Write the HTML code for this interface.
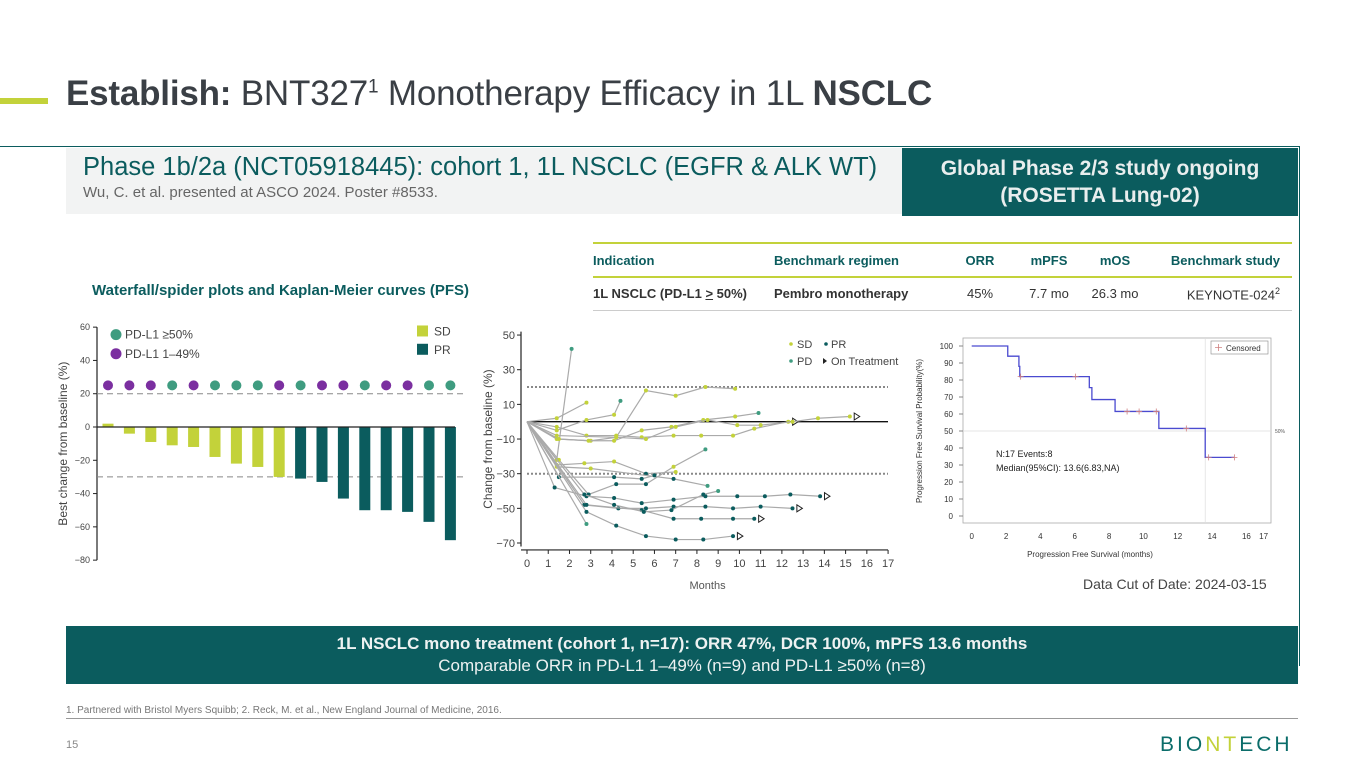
<!DOCTYPE html>
<html><head><meta charset="utf-8"><style>
*{margin:0;padding:0;box-sizing:border-box}
body{width:1365px;height:768px;background:#fff;font-family:"Liberation Sans",sans-serif;position:relative;overflow:hidden;color:#333}
.abs{position:absolute}
svg text{font-family:"Liberation Sans",sans-serif}
td{padding:0}
</style></head><body>
<div class="abs" style="left:0;top:98px;width:48px;height:6px;background:#c3d23a"></div>
<div class="abs" style="left:66px;top:74px;font-size:35px;color:#3a3f45;white-space:nowrap;letter-spacing:-0.2px"><b>Establish:</b> BNT327<sup style="font-size:19px">1</sup> Monotherapy Efficacy in 1L <b>NSCLC</b></div>
<div class="abs" style="left:0;top:146px;width:1300px;height:520px;border-top:1.5px solid #0b5c5e;border-right:1.5px solid #0b5c5e"></div>
<div class="abs" style="left:66px;top:148px;width:836px;height:66px;background:#f2f3f3;padding:5px 0 0 17px">
<div style="font-size:25.5px;color:#0b5c5e;white-space:nowrap">Phase 1b/2a (NCT05918445): cohort 1, 1L NSCLC (EGFR &amp; ALK WT)</div>
<div style="font-size:15px;color:#666;margin-top:2px">Wu, C. et al. presented at ASCO 2024. Poster #8533.</div></div>
<div class="abs" style="left:902px;top:148px;width:396px;height:68px;background:#0b5c5e;color:#e9eeee;font-weight:bold;font-size:21px;text-align:center;line-height:27px;padding-top:7px">Global Phase 2/3 study ongoing<br>(ROSETTA Lung-02)</div>
<div class="abs" style="left:92px;top:282px;font-size:15px;font-weight:bold;color:#0b5c5e">Waterfall/spider plots and Kaplan-Meier curves (PFS)</div>
<table class="abs" style="left:593px;top:242px;width:699px;border-collapse:collapse;font-size:13px;color:#333;table-layout:fixed">
<colgroup><col style="width:181px"><col style="width:168px"><col style="width:76px"><col style="width:62px"><col style="width:70px"><col style="width:142px"></colgroup>
<tr style="border-top:2.5px solid #c3d23a;border-bottom:2.5px solid #c3d23a;height:34px;font-weight:bold;color:#0b5c5e"><td>Indication</td><td>Benchmark regimen</td><td style="text-align:center">ORR</td><td style="text-align:center">mPFS</td><td style="text-align:center">mOS</td><td style="text-align:right;padding-right:12px">Benchmark study</td></tr>
<tr style="border-bottom:1.5px solid #ccc;height:33px"><td style="font-weight:bold;white-space:nowrap">1L NSCLC (PD-L1 <u>&gt;</u> 50%)</td><td style="font-weight:bold">Pembro monotherapy</td><td style="text-align:center">45%</td><td style="text-align:center">7.7 mo</td><td style="text-align:center">26.3 mo</td><td style="text-align:right;padding-right:12px">KEYNOTE-024<sup style="font-size:9px">2</sup></td></tr></table>

<svg class="abs" style="left:0;top:0" width="1365" height="768">
<g id="wf"></g>
<g id="sp"></g>
<g id="km"></g>
</svg>
<div class="abs" style="left:1083px;top:576px;font-size:14px;color:#444">Data Cut of Date: 2024-03-15</div>
<div class="abs" style="left:66px;top:626px;width:1232px;height:58px;background:#0b5c5e;color:#eef2f2;text-align:center;font-size:17px;line-height:22px;padding-top:7px"><b>1L NSCLC mono treatment (cohort 1, n=17): ORR 47%, DCR 100%, mPFS 13.6 months</b><br>Comparable ORR in PD-L1 1–49% (n=9) and PD-L1 ≥50% (n=8)</div>
<div class="abs" style="left:66px;top:705px;font-size:10px;color:#777">1. Partnered with Bristol Myers Squibb; 2. Reck, M. et al., New England Journal of Medicine, 2016.</div>
<div class="abs" style="left:66px;top:718px;width:1232px;height:1px;background:#999"></div>
<div class="abs" style="left:66px;top:739px;font-size:11px;color:#888">15</div>
<div class="abs" style="left:1160px;top:733px;font-size:21px;letter-spacing:3px;color:#0b6d6a;font-weight:normal">BIO<span style="color:#c3d23a">NT</span>ECH</div>

<script>
const NS='http://www.w3.org/2000/svg';
function mk(p,t,a,txt){const e=document.createElementNS(NS,t);for(const k in a)e.setAttribute(k,a[k]);if(txt!==undefined)e.textContent=txt;p.appendChild(e);return e;}
// ===== Waterfall data =====
const wfValues=[2,-4,-9,-11,-12,-18,-22,-24,-30,-31,-33,-43,-50,-50,-51,-57,-68];
const wfResponse=['SD','SD','SD','SD','SD','SD','SD','SD','SD','PR','PR','PR','PR','PR','PR','PR','PR'];
const wfPdl1=['lo','lo','lo','hi','lo','hi','hi','hi','lo','hi','lo','lo','hi','lo','lo','hi','hi'];
const wfTicks=[60,40,20,0,-20,-40,-60,-80];
// ===== Spider data =====
const spMonths=[[0,1.4,2.8],[0,1.4,2.1],[0,1.4,2.8,4.1,4.4],[0,1.4,3,4.2,5.6,7,8.4,9.8],[0,1.4,2.8,4.2,5.4,6.9,8.2,9.7,10.7,12.3],[0,1.5,2.9,4.1,5.4,6.8,8.3,9.8,10.9],[0,1.4,4.2,5.6,7,8.5,9.9,11,12.5,13.7,15.2],[0,1.4,2.7,4.1,5.6,7],[0,1.4,3,6.9,8.5],[0,1.5,4.1,5.4,6],[0,1.5,2.9,4.2,5.6,6.9,8.4],[0,1.3,2.8,4.1,5.4,6.9,8.4,9.9,11.2,12.4,13.8],[0,2.7,4.3,5.6,6.9,8.4,9.7,11,12.5],[0,2.8,5.4,6.9,8.2,9.7,10.7],[0,2.8,4.2,5.6,7,8.3,9.7],[0,2.8],[0,2.7,4.1,5.5,6.8,8.3,9]];
const spValues=[[0,2,11],[0,-22,42],[0,-5,1,4,12],[0,-10,-11,-9,18,15,20,19],[0,-3,-8,-8,-9,-8,-8,-8,-4,0],[0,-10,-11,-11,-5,-3,1,3,5],[0,-8,-9,-10,-3,1,-2,-2,0,2,3],[0,-25,-24,-23,-30,-29],[0,-26,-27,-33,-37],[0,-32,-32,-33,-31],[0,-22,-42,-36,-36,-26,-16],[0,-38,-43,-44,-47,-45,-43,-43,-43,-42,-43],[0,-48,-50,-50,-49,-49,-50,-49,-50],[0,-48,-51,-56,-56,-56,-56],[0,-52,-60,-66,-68,-68,-66],[0,-59],[0,-42,-48,-52,-51,-42,-40]];
const spOnTreatment=[0,0,0,0,1,0,1,0,0,0,0,1,1,1,1,0,0];
const spPD=[0,1,1,0,0,1,0,0,1,0,1,0,0,0,0,1,1];
const spYTicks=[50,30,10,-10,-30,-50,-70];
const spXTicks=[0,1,2,3,4,5,6,7,8,9,10,11,12,13,14,15,16,17];
// ===== KM data =====
const kmTimes=[0,2.1,2.75,2.8,6.85,7.0,8.35,10.9,13.6,15.3];
const kmSurv=[100,94,88,82,75.5,68.5,61.5,51.5,34.5,34.5];
const kmCensT=[2.85,6.05,9.05,9.75,10.75,12.5,13.8,15.3];
const kmCensS=[82,82,61.5,61.5,61.5,51.5,34.5,34.5];
const kmYTicks=[0,10,20,30,40,50,60,70,80,90,100];
const kmXTicks=[0,2,4,6,8,10,12,14,16,17];

const TEAL='#0b5c5e',YG='#c3d23a',PUR='#7b2fa0',GRN='#3f9c80';
// ---- waterfall ----
(function(){
const g=document.getElementById('wf');
const y=v=>427-(v)*(233/140);
const x=i=>108+i*21.4;
wfTicks.forEach(t=>{mk(g,'text',{x:90,y:y(t)+3,'font-size':9,'text-anchor':'end',fill:'#444'},t===0?'0':(t<0?'−'+(-t):t));mk(g,'line',{x1:93,x2:97,y1:y(t),y2:y(t),stroke:'#222'});});
mk(g,'line',{x1:97,x2:97,y1:y(60),y2:y(-80),stroke:'#222','stroke-width':1.2});
const yt=mk(g,'text',{x:0,y:0,'font-size':12,fill:'#444','text-anchor':'middle',transform:'translate(67,'+y(-10)+') rotate(-90)'},'Best change from baseline (%)');

[20,-30].forEach(v=>mk(g,'line',{x1:97,x2:465,y1:y(v),y2:y(v),stroke:'#888','stroke-dasharray':'6,4'}));
wfValues.forEach((v,i)=>{const r=mk(g,'rect',{x:x(i)-5.5,y:Math.min(y(0),y(v)),width:11,height:Math.abs(y(v)-y(0)),fill:wfResponse[i]==='SD'?YG:TEAL});

const c=mk(g,'circle',{cx:x(i),cy:y(25),r:5,fill:wfPdl1[i]==='hi'?GRN:PUR});
});
mk(g,'line',{x1:97,x2:455,y1:y(0),y2:y(0),stroke:'#222','stroke-width':1.3});
mk(g,'circle',{cx:116,cy:y(55.5),r:5.5,fill:GRN});mk(g,'text',{x:125,y:y(55.5)+4,'font-size':12,fill:'#444'},'PD-L1 ≥50%');
mk(g,'circle',{cx:116,cy:y(44),r:5.5,fill:PUR});mk(g,'text',{x:125,y:y(44)+4,'font-size':12,fill:'#444'},'PD-L1 1–49%');
mk(g,'rect',{x:417,y:y(58)-5,width:11,height:11,fill:YG});mk(g,'text',{x:434,y:y(58)+5,'font-size':12,fill:'#444'},'SD');
mk(g,'rect',{x:417,y:y(47)-5,width:11,height:11,fill:TEAL});mk(g,'text',{x:434,y:y(47)+5,'font-size':12,fill:'#444'},'PR');
})();
// ---- spider ----
(function(){
const g=document.getElementById('sp');
const x=m=>527+m*21.24;
const y=v=>421.7-v*1.733;
mk(g,'line',{x1:521,x2:521,y1:y(52),y2:y(-72),stroke:'#222','stroke-width':1.2});
mk(g,'line',{x1:521,x2:888,y1:y(-74),y2:y(-74),stroke:'#222','stroke-width':1.2});
spYTicks.forEach(t=>{mk(g,'text',{x:515,y:y(t)+4,'font-size':11,'text-anchor':'end',fill:'#444'},t<0?'−'+(-t):t);mk(g,'line',{x1:517,x2:521,y1:y(t),y2:y(t),stroke:'#222'});});
spXTicks.forEach(t=>{mk(g,'text',{x:x(t),y:567,'font-size':11,'text-anchor':'middle',fill:'#444'},t);mk(g,'line',{x1:x(t),x2:x(t),y1:y(-74),y2:y(-74)+4,stroke:'#222'});});
mk(g,'text',{x:x(8.5),y:589,'font-size':11,'text-anchor':'middle',fill:'#555'},'Months');
mk(g,'text',{x:0,y:0,'font-size':12,fill:'#444','text-anchor':'middle',transform:'translate(492,'+y(-10)+') rotate(-90)'},'Change from baseline (%)');
[20,-30].forEach(v=>mk(g,'line',{x1:527,x2:888,y1:y(v),y2:y(v),stroke:'#888','stroke-width':2,'stroke-dasharray':'2,2'}));
mk(g,'line',{x1:527,x2:888,y1:y(0),y2:y(0),stroke:'#111','stroke-width':1.3});
spMonths.forEach((ms,s)=>{const vs=spValues[s];
const pl=mk(g,'polyline',{points:ms.map((m,i)=>x(m)+','+y(vs[i])).join(' '),fill:'none',stroke:'#aaa','stroke-width':1.2});

ms.forEach((m,i)=>{if(i===0)return;let col=vs[i]>-30?YG:TEAL;if(spPD[s]&&i===ms.length-1)col=GRN;mk(g,'circle',{cx:x(m),cy:y(vs[i]),r:2,fill:col});});
if(spOnTreatment[s]){const lm=ms[ms.length-1]+0.3,lv=vs[vs.length-1];mk(g,'path',{d:`M${x(lm)-2},${y(lv)-3.5}L${x(lm)+3.5},${y(lv)}L${x(lm)-2},${y(lv)+3.5}Z`,fill:'#fff',stroke:'#222','stroke-width':1});}});
mk(g,'circle',{cx:791,cy:344,r:1.8,fill:YG});mk(g,'text',{x:797,y:348,'font-size':11,fill:'#444'},'SD');
mk(g,'circle',{cx:826,cy:344,r:1.8,fill:TEAL});mk(g,'text',{x:831,y:348,'font-size':11,fill:'#444'},'PR');
mk(g,'circle',{cx:791,cy:361,r:1.8,fill:GRN});mk(g,'text',{x:797,y:365,'font-size':11,fill:'#444'},'PD');
mk(g,'path',{d:'M823,358L827,361L823,364Z',fill:'#222'});mk(g,'text',{x:831,y:365,'font-size':11,fill:'#444'},'On Treatment');
})();
// ---- KM ----
(function(){
const g=document.getElementById('km');
const x=t=>971.7+t*17.17;
const y=v=>516-v*1.7;
mk(g,'rect',{x:963,y:338,width:308,height:185,fill:'none',stroke:'#aaa','stroke-width':0.8});
kmYTicks.forEach(t=>{mk(g,'text',{x:953,y:y(t)+3,'font-size':8,'text-anchor':'end',fill:'#333'},t);mk(g,'line',{x1:959,x2:963,y1:y(t),y2:y(t),stroke:'#888'});});
kmXTicks.forEach(t=>mk(g,'text',{x:x(t),y:539,'font-size':8,'text-anchor':'middle',fill:'#333'},t));
mk(g,'text',{x:1090,y:557,'font-size':8,'text-anchor':'middle',fill:'#333'},'Progression Free Survival (months)');
mk(g,'text',{x:0,y:0,'font-size':8,fill:'#333','text-anchor':'middle',transform:'translate(922,'+y(50)+') rotate(-90)'},'Progression Free Survival Probability(%)');
mk(g,'line',{x1:963,x2:1271,y1:y(50),y2:y(50),stroke:'#ddd','stroke-width':0.7});
mk(g,'line',{x1:x(13.6),x2:x(13.6),y1:338,y2:523,stroke:'#ddd','stroke-width':0.7});
mk(g,'text',{x:1275,y:y(50)+2,'font-size':5,fill:'#555'},'50%');
let d='M'+x(kmTimes[0])+','+y(kmSurv[0]);
for(let i=1;i<kmTimes.length;i++){d+='H'+x(kmTimes[i])+'V'+y(kmSurv[i]);}
const p=mk(g,'path',{d:d,fill:'none',stroke:'#4a4ad0','stroke-width':1.3});

kmCensT.forEach((t,i)=>{mk(g,'path',{d:`M${x(t)-3},${y(kmCensS[i])}h6M${x(t)},${y(kmCensS[i])-3}v6`,stroke:'#d08080','stroke-width':0.8});});
mk(g,'rect',{x:1211,y:341,width:57,height:13,fill:'#fff',stroke:'#888','stroke-width':0.6});
mk(g,'path',{d:'M1215,347.5h7M1218.5,344v7',stroke:'#d08080','stroke-width':0.8});
mk(g,'text',{x:1226,y:351,'font-size':8,fill:'#333'},'Censored');
mk(g,'text',{x:996,y:457,'font-size':9,fill:'#222'},'N:17    Events:8');
mk(g,'text',{x:996,y:471,'font-size':9,fill:'#222'},'Median(95%CI): 13.6(6.83,NA)');
})();
</script>
</body></html>
